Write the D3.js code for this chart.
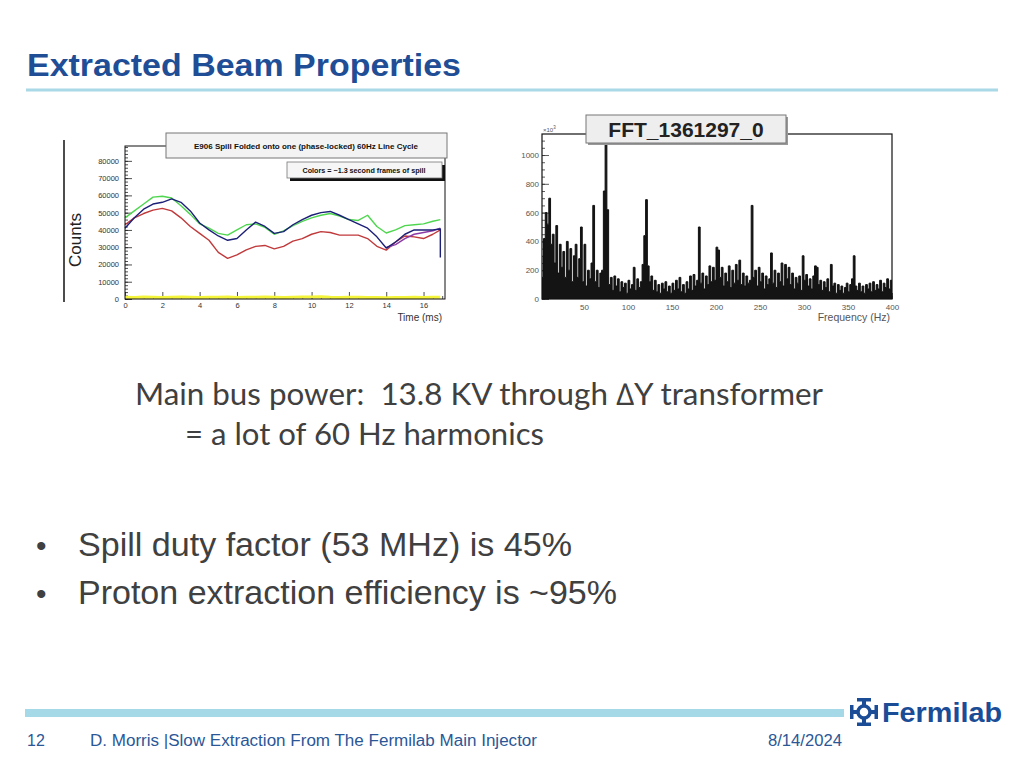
<!DOCTYPE html>
<html>
<head>
<meta charset="utf-8">
<script src="https://cdn.jsdelivr.net/npm/d3@7"></script>
<style>
  html, body { margin: 0; padding: 0; background: #fff; }
  svg { display: block; }
  text { white-space: pre; }
</style>
</head>
<body>
<main></main>
<script>
// spill folded onto one 60Hz cycle (time in ms, counts)
const tms = [0, 0.5, 1, 1.5, 2, 2.5, 3, 3.5, 4, 4.5, 5, 5.5, 6, 6.5, 7, 7.5, 8, 8.5, 9, 9.5,
  10, 10.5, 11, 11.5, 12, 12.5, 13, 13.5, 14, 14.5, 15, 15.5, 16, 16.5, 16.9];
const green = [47000, 51000, 55000, 59000, 59500, 58500, 54000, 49000, 43500, 41000, 38000, 37000, 40000, 43000, 43500, 41500, 37500, 39500, 42500, 45000,
  47000, 48500, 49500, 48000, 46000, 45500, 48500, 42000, 38200, 40000, 42500, 43000, 43500, 45000, 46000];
const blue = [41000, 47000, 52000, 55000, 56000, 58000, 56000, 51000, 44000, 40000, 36500, 34000, 35000, 40000, 44500, 42000, 38000, 39000, 43000, 46000,
  48500, 50000, 50700, 48500, 46000, 43500, 41000, 36000, 29500, 33000, 37500, 40000, 40000, 40000, 40500];
const blueDrop = 24000;
const red = [43000, 47000, 49500, 51500, 52500, 51000, 47000, 42000, 38000, 34000, 27000, 23500, 25500, 28500, 30500, 31000, 29000, 30500, 33500, 35000,
  37500, 39000, 38500, 37000, 37000, 37000, 35000, 30500, 28300, 33000, 36500, 36000, 35000, 37500, 40000];
const purple = [null, null, null, null, null, null, null, null, null, null, null, null, null, null, null, null, null, null, null, null,
  null, null, null, null, null, null, null, null, 29800, 31500, 35000, 37500, 38500, 39500, 41000];
const yellow = [1000, 900, 1100, 1000, 900, 1000, 1100, 1000, 900, 1000, 1000, 1100, 900, 1000, 1000, 1100, 1000, 900, 1000, 1100,
  1200, 1300, 1000, 900, 1000, 1000, 900, 800, 700, 800, 900, 1000, 900, 1000, 1000];
const countTicks = [0, 10000, 20000, 30000, 40000, 50000, 60000, 70000, 80000];
const timeTicks = [0, 2, 4, 6, 8, 10, 12, 14, 16];

// FFT magnitude (x10^3), 2 Hz bins from 0 to 400 Hz
const fft = [
  300, 150, 420, 600, 520, 700, 380, 450, 250, 510, 180, 380, 220, 330, 150, 400, 200, 350, 120, 300,
  380, 150, 280, 500, 120, 380, 90, 200, 140, 250, 650, 120, 200, 80, 180, 200, 750, 1300, 620, 100,
  150, 60, 160, 90, 140, 50, 120, 80, 110, 40, 130, 70, 100, 220, 60, 140, 80, 120, 240, 440,
  690, 230, 120, 160, 60, 130, 50, 100, 40, 110, 70, 120, 50, 90, 40, 110, 60, 130, 70, 150,
  50, 100, 40, 120, 70, 160, 60, 170, 90, 130, 500, 110, 180, 70, 160, 100, 230, 120, 220, 130,
  360, 340, 150, 220, 90, 180, 120, 230, 80, 200, 110, 240, 130, 270, 100, 180, 90, 160, 110, 130,
  650, 150, 200, 90, 220, 120, 180, 70, 160, 100, 140, 320, 110, 200, 80, 180, 120, 250, 90, 240,
  140, 220, 100, 180, 70, 150, 110, 160, 60, 300, 130, 170, 90, 140, 70, 160, 230, 220, 100, 130,
  60, 120, 80, 140, 50, 240, 90, 110, 40, 100, 60, 90, 40, 80, 110, 50, 100, 140, 300, 90,
  60, 110, 50, 90, 40, 100, 70, 110, 50, 120, 60, 100, 70, 130, 50, 110, 80, 140, 70, 130
];
const fftTicks = [0, 200, 400, 600, 800, 1000];
const freqTicks = [50, 100, 150, 200, 250, 300, 350, 400];

const bullets = ["Spill duty factor (53 MHz) is 45%", "Proton extraction efficiency is ~95%"];

const svg = d3.select("main").append("svg")
  .attr("width", 1024).attr("height", 768).attr("viewBox", "0 0 1024 768");
const ROOTF = "'Liberation Sans', Arial, sans-serif";

// ---- slide header
svg.append("text").attr("x", 27).attr("y", 76)
  .attr("font-family", ROOTF).attr("font-weight", "bold").attr("font-size", 31)
  .attr("fill", "#1f4e96").attr("textLength", 434).attr("lengthAdjust", "spacingAndGlyphs")
  .text("Extracted Beam Properties");
svg.append("rect").attr("x", 26).attr("y", 88.5).attr("width", 972).attr("height", 3).attr("fill", "#a9d8e7");

// ---- left plot: spill vs time
const xT = d3.scaleLinear().domain([0, 17.15]).range([125, 445]);
const yC = d3.scaleLinear().domain([0, 88600]).range([299, 146]);
const g1 = svg.append("g");

g1.append("line").attr("x1", 64).attr("x2", 64).attr("y1", 140).attr("y2", 302)
  .attr("stroke", "#111").attr("stroke-width", 1.5);

const tickStyle = sel => {
  sel.select(".domain").remove();
  sel.selectAll("line").attr("stroke", "#222").attr("stroke-width", 0.8);
  sel.selectAll("text").attr("font-family", ROOTF).attr("font-size", 7.5).attr("fill", "#333");
};

g1.append("g").attr("transform", "translate(125,0)")
  .call(d3.axisLeft(yC).tickValues(d3.range(0, 88001, 2000)).tickSize(-3).tickFormat(""))
  .call(tickStyle);
g1.append("g").attr("transform", "translate(125,0)")
  .call(d3.axisLeft(yC).tickValues(countTicks).tickFormat(d3.format("d"))
    .tickSizeInner(-7).tickSizeOuter(0).tickPadding(6))
  .call(tickStyle);
g1.append("g").attr("transform", "translate(0,299)")
  .call(d3.axisBottom(xT).tickValues(d3.range(0, 17.01, 0.5)).tickSize(-3).tickFormat(""))
  .call(tickStyle);
g1.append("g").attr("transform", "translate(0,299)")
  .call(d3.axisBottom(xT).tickValues(timeTicks).tickSizeInner(-7).tickSizeOuter(0).tickPadding(4))
  .call(tickStyle);

const spill = [
  { v: yellow, c: "#f4f43a", w: 3 },
  { v: red, c: "#c0393b", w: 1.4 },
  { v: green, c: "#4fd64f", w: 1.4 },
  { v: purple, c: "#8b3aa6", w: 1.4 },
  { v: blue, c: "#1c1f78", w: 1.4 }
];
const line1 = d3.line()
  .defined(d => d[1] !== null)
  .x(d => xT(d[0])).y(d => yC(d[1]));
g1.selectAll("path.spill").data(spill).join("path").attr("class", "spill")
  .attr("fill", "none").attr("stroke", d => d.c).attr("stroke-width", d => d.w)
  .attr("stroke-linejoin", "round")
  .attr("d", d => {
    const pts = d.v.map((v, i) => [tms[i], v]);
    if (d.v === blue) pts.push([tms[tms.length - 1], blueDrop]);
    return line1(pts);
  });

g1.append("rect").attr("x", 125).attr("y", 146).attr("width", 320).attr("height", 153)
  .attr("fill", "none").attr("stroke", "#111").attr("stroke-width", 1);

// title pave
g1.append("rect").attr("x", 166).attr("y", 133).attr("width", 281).attr("height", 25)
  .attr("fill", "#f3f3f3").attr("stroke", "#777").attr("stroke-width", 1);
g1.append("text").attr("x", 306).attr("y", 149).attr("text-anchor", "middle")
  .attr("font-family", ROOTF).attr("font-weight", "bold").attr("font-size", 8).attr("fill", "#111")
  .text("E906 Spill Folded onto one (phase-locked) 60Hz Line Cycle");
g1.append("rect").attr("x", 290).attr("y", 165).attr("width", 155).attr("height", 16).attr("fill", "#111");
g1.append("rect").attr("x", 287).attr("y", 162).attr("width", 155).attr("height", 16)
  .attr("fill", "#f6f6f6").attr("stroke", "#777").attr("stroke-width", 0.8);
g1.append("text").attr("x", 364).attr("y", 173).attr("text-anchor", "middle")
  .attr("font-family", ROOTF).attr("font-weight", "bold").attr("font-size", 7.2).attr("fill", "#111")
  .text("Colors = ~1.3 second frames of spill");

g1.append("text").attr("transform", "translate(81,240) rotate(-90)").attr("text-anchor", "middle")
  .attr("font-family", ROOTF).attr("font-size", 17).attr("fill", "#222").text("Counts");
g1.append("text").attr("x", 442).attr("y", 321).attr("text-anchor", "end")
  .attr("font-family", ROOTF).attr("font-size", 10).attr("fill", "#333").text("Time (ms)");

// ---- right plot: FFT
const xF = d3.scaleLinear().domain([0, 400]).range([540, 892]);
const yF = d3.scaleLinear().domain([0, 1146]).range([299, 134]);
const g2 = svg.append("g");

const tickStyle2 = sel => {
  sel.select(".domain").remove();
  sel.selectAll("line").attr("stroke", "#333").attr("stroke-width", 0.8);
  sel.selectAll("text").attr("font-family", ROOTF).attr("font-size", 8).attr("fill", "#555");
};
g2.append("g").attr("transform", "translate(542,0)")
  .call(d3.axisLeft(yF).tickValues(d3.range(0, 1141, 50)).tickSize(-3).tickFormat(""))
  .call(tickStyle2);
g2.append("g").attr("transform", "translate(542,0)")
  .call(d3.axisLeft(yF).tickValues(fftTicks).tickFormat(d3.format("d"))
    .tickSizeInner(-7).tickSizeOuter(0).tickPadding(3))
  .call(tickStyle2);
g2.append("g").attr("transform", "translate(0,299)")
  .call(d3.axisBottom(xF).tickValues(d3.range(10, 401, 10)).tickSize(-3).tickFormat(""))
  .call(tickStyle2);
g2.append("g").attr("transform", "translate(0,299)")
  .call(d3.axisBottom(xF).tickValues(freqTicks).tickSizeInner(-6).tickSizeOuter(0).tickPadding(5))
  .call(tickStyle2);

svg.append("clipPath").attr("id", "fftclip").append("rect")
  .attr("x", 542).attr("y", 134).attr("width", 350).attr("height", 165);
const fftPts = fft.map((v, i) => [i * 2, v]).concat([[400, fft[fft.length - 1]]]);
g2.append("path").attr("clip-path", "url(#fftclip)")
  .attr("fill", "#141414").attr("stroke", "#111").attr("stroke-width", 1)
  .attr("d", d3.area().curve(d3.curveStepAfter)
    .x(d => xF(d[0])).y0(yF(0)).y1(d => yF(d[1]))(fftPts));

g2.append("rect").attr("x", 542).attr("y", 134).attr("width", 350).attr("height", 165)
  .attr("fill", "none").attr("stroke", "#111").attr("stroke-width", 1.2);

const sci = g2.append("text").attr("x", 543).attr("y", 132)
  .attr("font-family", ROOTF).attr("font-size", 6).attr("fill", "#555");
sci.append("tspan").text("×10");
sci.append("tspan").attr("dy", -3).attr("font-size", 4.5).text("3");

g2.append("rect").attr("x", 588).attr("y", 117).attr("width", 200).attr("height", 28).attr("fill", "#999");
g2.append("rect").attr("x", 586).attr("y", 115).attr("width", 200).attr("height", 28)
  .attr("fill", "#eeeeee").attr("stroke", "#777").attr("stroke-width", 1);
g2.append("text").attr("x", 686).attr("y", 137).attr("text-anchor", "middle")
  .attr("font-family", ROOTF).attr("font-weight", "bold").attr("font-size", 21).attr("fill", "#222")
  .text("FFT_1361297_0");
g2.append("text").attr("x", 890).attr("y", 321).attr("text-anchor", "end")
  .attr("font-family", ROOTF).attr("font-size", 10.5).attr("fill", "#555").text("Frequency (Hz)");

// ---- slide body text
const bodyF = "Lato, 'Open Sans', sans-serif";
svg.append("text").attr("x", 135).attr("y", 405)
  .attr("font-family", bodyF).attr("font-size", 30).attr("fill", "#404040")
  .attr("textLength", 688).attr("lengthAdjust", "spacingAndGlyphs")
  .text("Main bus power:  13.8 KV through \u2206Y transformer");
svg.append("text").attr("x", 185).attr("y", 445)
  .attr("font-family", bodyF).attr("font-size", 30).attr("fill", "#404040")
  .attr("textLength", 359).attr("lengthAdjust", "spacingAndGlyphs")
  .text("= a lot of 60 Hz harmonics");

const bl = svg.append("g").selectAll("g").data(bullets).join("g")
  .attr("transform", (d, i) => `translate(0,${556 + i * 48})`);
bl.append("text").attr("x", 36).attr("font-family", ROOTF).attr("font-size", 30).attr("fill", "#404040").text("\u2022");
bl.append("text").attr("x", 78).attr("font-family", ROOTF).attr("font-size", 34).attr("fill", "#404040")
  .attr("textLength", (d, i) => i === 0 ? 494 : 539).attr("lengthAdjust", "spacingAndGlyphs")
  .text(d => d);

// ---- footer
svg.append("rect").attr("x", 25).attr("y", 709).attr("width", 819).attr("height", 8).attr("fill", "#a5d9e8");
const foot = svg.append("g").attr("font-family", ROOTF).attr("font-size", 16).attr("fill", "#2b5797");
foot.append("text").attr("x", 27).attr("y", 746).text("12");
foot.append("text").attr("x", 90).attr("y", 746).attr("textLength", 447).attr("lengthAdjust", "spacingAndGlyphs")
  .text("D. Morris |Slow Extraction From The Fermilab Main Injector");
foot.append("text").attr("x", 768).attr("y", 746).attr("textLength", 74).attr("lengthAdjust", "spacingAndGlyphs")
  .text("8/14/2024");

// Fermilab logo
const logo = svg.append("g").attr("transform", "translate(864,712)").attr("fill", "#1b4c96");
logo.append("circle").attr("r", 6).attr("fill", "none").attr("stroke", "#1b4c96").attr("stroke-width", 3.5);
[0, 90, 180, 270].forEach(a => {
  const arm = logo.append("g").attr("transform", `rotate(${a})`);
  arm.append("rect").attr("x", -2).attr("y", -14).attr("width", 4).attr("height", 7);
  arm.append("rect").attr("x", -7).attr("y", -14).attr("width", 14).attr("height", 3.5);
});
svg.append("text").attr("x", 882).attr("y", 722)
  .attr("font-family", ROOTF).attr("font-weight", "bold").attr("font-size", 28).attr("fill", "#1b4c96")
  .attr("textLength", 120).attr("lengthAdjust", "spacingAndGlyphs")
  .text("Fermilab");
</script>
</body>
</html>
